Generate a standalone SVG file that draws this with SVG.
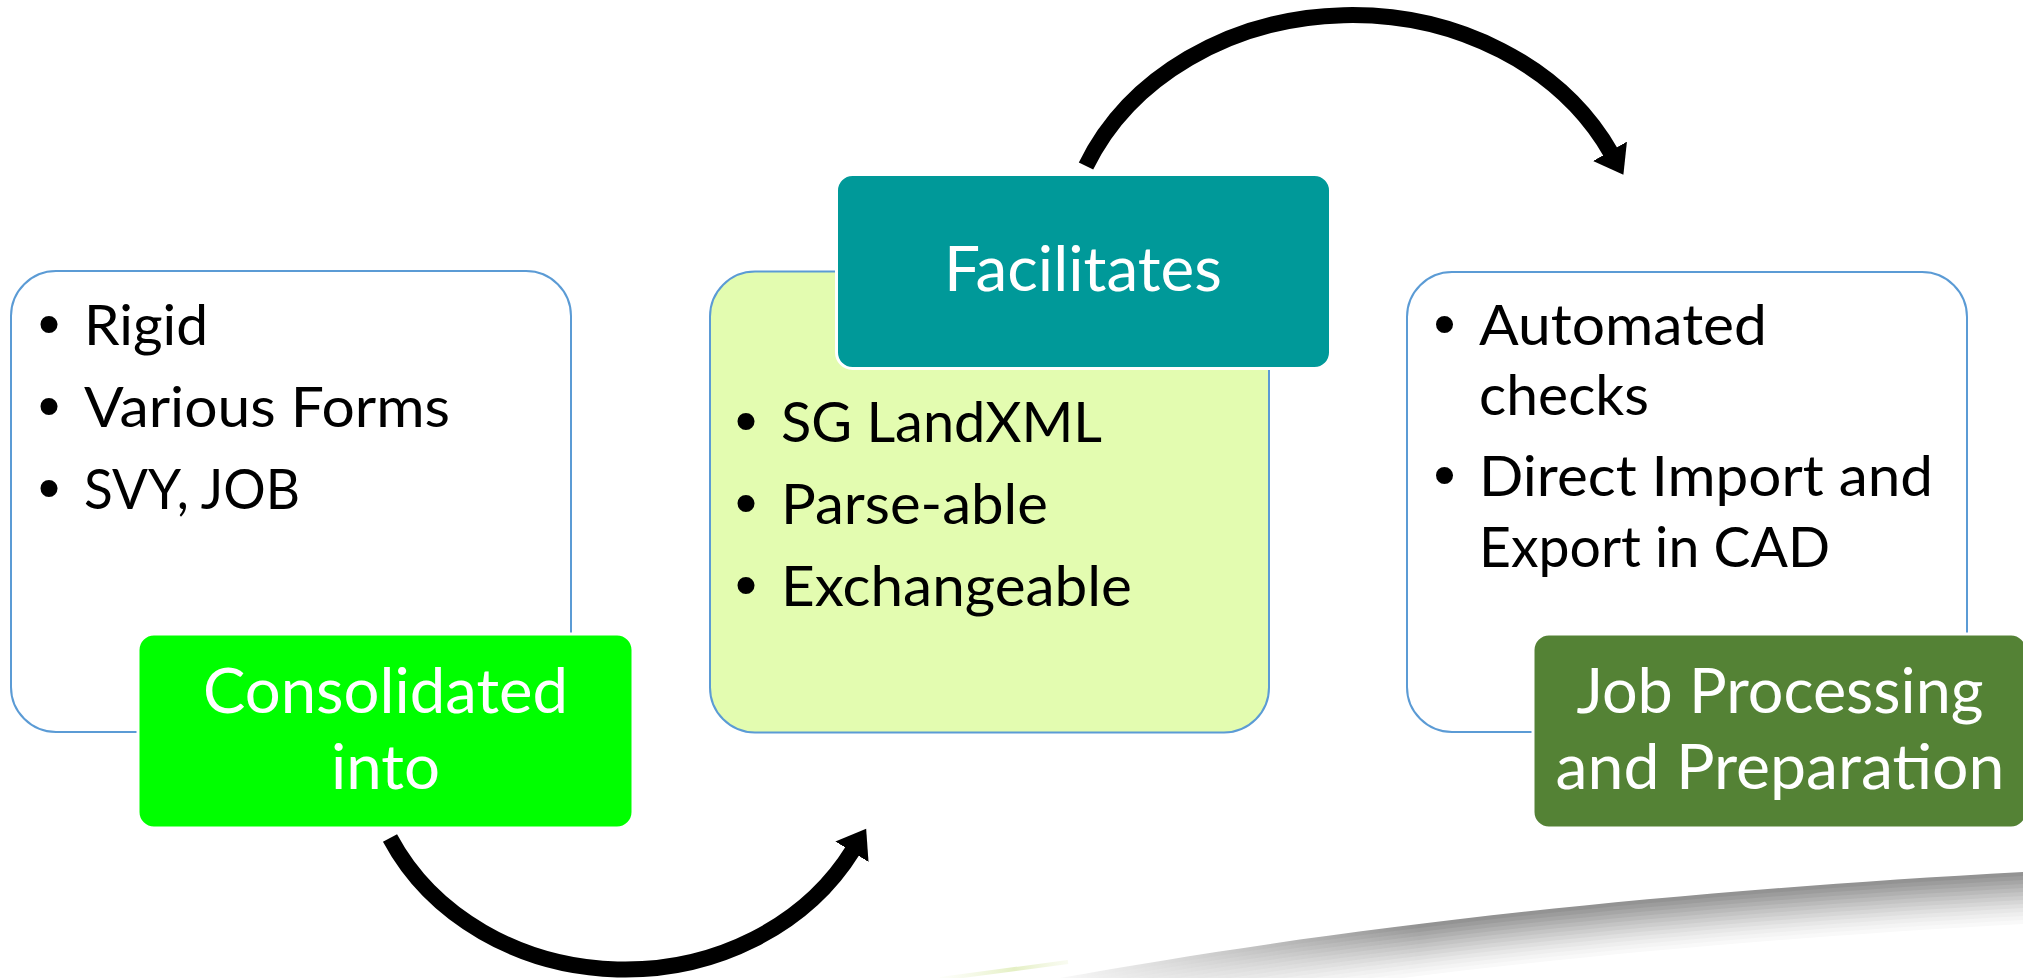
<svg xmlns="http://www.w3.org/2000/svg" xmlns:xlink="http://www.w3.org/1999/xlink" width="2023" height="978" viewBox="0 0 2023 978">
<style>
  .box { fill: #ffffff; stroke: #5B9BD5; stroke-width: 2; }
  .boxmid { fill: #E3FCB0; stroke: #5B9BD5; stroke-width: 2; }
  .acc { stroke: #ffffff; stroke-width: 3; }
  .body { font-family: Lato, "Open Sans", "Liberation Sans", sans-serif; font-size: 56px; fill: #000000; }
  .bul { font-family: "Liberation Sans", Arial, sans-serif; font-size: 63px; fill: #000000; text-anchor: middle; }
  .lab { font-family: Lato, "Open Sans", "Liberation Sans", sans-serif; font-size: 62px; fill: #ffffff; text-anchor: middle; }
  .arc { fill: none; stroke: #000000; stroke-width: 16; marker-end: url(#ah); }
</style>
<defs>
  <marker id="ah" markerUnits="userSpaceOnUse" markerWidth="32" markerHeight="42" refX="2" refY="19.5" orient="auto">
    <path d="M0,0 L27,19.5 L0,39 Z" fill="#000000"/>
  </marker>
  <path id="sw" d="M980,1000 L1060,978 C1300,935 1600,895 2023,872 L2040,871 L2040,1040 L980,1040 Z"/>
  <linearGradient id="fadeL" gradientUnits="userSpaceOnUse" x1="1040" y1="0" x2="1420" y2="0">
    <stop offset="0" stop-color="#000000"/>
    <stop offset="1" stop-color="#ffffff"/>
  </linearGradient>
  <mask id="swmask" maskUnits="userSpaceOnUse" x="900" y="820" width="1140" height="180">
    <rect x="900" y="820" width="1140" height="180" fill="url(#fadeL)"/>
  </mask>
  <linearGradient id="streak" gradientUnits="userSpaceOnUse" x1="930" y1="0" x2="1070" y2="0">
    <stop offset="0" stop-color="#e9f3c8" stop-opacity="0"/>
    <stop offset="0.6" stop-color="#d2e59c" stop-opacity="0.6"/>
    <stop offset="1" stop-color="#e3edc0" stop-opacity="0.2"/>
  </linearGradient>
</defs>

<g id="swoosh" mask="url(#swmask)">
  <use xlink:href="#sw" fill="#939393"/>
  <use xlink:href="#sw" transform="translate(0,4)" fill="#9c9c9c"/>
  <use xlink:href="#sw" transform="translate(0,8)" fill="#a6a6a6"/>
  <use xlink:href="#sw" transform="translate(0,12)" fill="#b0b0b0"/>
  <use xlink:href="#sw" transform="translate(0,16)" fill="#bababa"/>
  <use xlink:href="#sw" transform="translate(0,20)" fill="#c4c4c4"/>
  <use xlink:href="#sw" transform="translate(0,24)" fill="#cdcdcd"/>
  <use xlink:href="#sw" transform="translate(0,28)" fill="#d6d6d6"/>
  <use xlink:href="#sw" transform="translate(0,32)" fill="#dfdfdf"/>
  <use xlink:href="#sw" transform="translate(0,36)" fill="#e7e7e7"/>
  <use xlink:href="#sw" transform="translate(0,40)" fill="#eeeeee"/>
  <use xlink:href="#sw" transform="translate(0,44)" fill="#f4f4f4"/>
  <use xlink:href="#sw" transform="translate(0,48)" fill="#f9f9f9"/>
  <use xlink:href="#sw" transform="translate(0,52)" fill="#ffffff"/>
</g>
<path d="M940,979 L1068,962" stroke="url(#streak)" stroke-width="4" fill="none"/>

<g id="node-input">
  <rect class="box" x="11" y="271" width="560" height="461" rx="45" ry="45"/>
  <text class="bul" x="49" y="345">•</text>
  <text class="body" x="84" y="345" textLength="124" lengthAdjust="spacingAndGlyphs">Rigid</text>
  <text class="bul" x="49" y="427">•</text>
  <text class="body" x="84" y="427" textLength="366" lengthAdjust="spacingAndGlyphs">Various Forms</text>
  <text class="bul" x="49" y="509">•</text>
  <text class="body" x="84" y="509" textLength="216" lengthAdjust="spacingAndGlyphs">SVY, JOB</text>
</g>

<g id="node-consolidated">
  <rect class="acc" x="138" y="634" width="495" height="194" rx="16" ry="16" fill="#00FF00"/>
  <text class="lab" x="385.5" y="713" textLength="365" lengthAdjust="spacingAndGlyphs">Consolidated</text>
  <text class="lab" x="385.5" y="789" textLength="109" lengthAdjust="spacingAndGlyphs">into</text>
</g>

<g id="node-landxml">
  <rect class="boxmid" x="710" y="271.5" width="559" height="461" rx="45" ry="45"/>
  <text class="bul" x="746" y="442">•</text>
  <text class="body" x="781" y="442" textLength="321" lengthAdjust="spacingAndGlyphs">SG LandXML</text>
  <text class="bul" x="746" y="524">•</text>
  <text class="body" x="781" y="524" textLength="267" lengthAdjust="spacingAndGlyphs">Parse-able</text>
  <text class="bul" x="746" y="606">•</text>
  <text class="body" x="781" y="606" textLength="351" lengthAdjust="spacingAndGlyphs">Exchangeable</text>
</g>

<g id="node-facilitates">
  <rect class="acc" x="836.5" y="174.5" width="494" height="194" rx="16" ry="16" fill="#009999"/>
  <text class="lab" x="1083" y="291" textLength="278" lengthAdjust="spacingAndGlyphs">Facilitates</text>
</g>

<g id="node-output">
  <rect class="box" x="1407" y="272" width="560" height="460" rx="45" ry="45"/>
  <text class="bul" x="1444.5" y="345">•</text>
  <text class="body" x="1479" y="345" textLength="288" lengthAdjust="spacingAndGlyphs">Automated</text>
  <text class="body" x="1479" y="415" textLength="170" lengthAdjust="spacingAndGlyphs">checks</text>
  <text class="bul" x="1444.5" y="496">•</text>
  <text class="body" x="1479" y="496" textLength="454" lengthAdjust="spacingAndGlyphs">Direct Import and</text>
  <text class="body" x="1479" y="567" textLength="351" lengthAdjust="spacingAndGlyphs">Export in CAD</text>
</g>

<g id="node-jobprocessing">
  <rect class="acc" x="1533" y="634" width="494" height="194" rx="16" ry="16" fill="#548235"/>
  <text class="lab" x="1780" y="713" textLength="407" lengthAdjust="spacingAndGlyphs">Job Processing</text>
  <text class="lab" x="1780" y="789" textLength="449" lengthAdjust="spacingAndGlyphs">and Preparation</text>
</g>

<g id="connectors">
  <path class="arc" d="M390,838 A260,230 0 0,0 853,850"/>
  <path class="arc" d="M1086,166 A288,245 0 0,1 1611,153"/>
</g>
</svg>
